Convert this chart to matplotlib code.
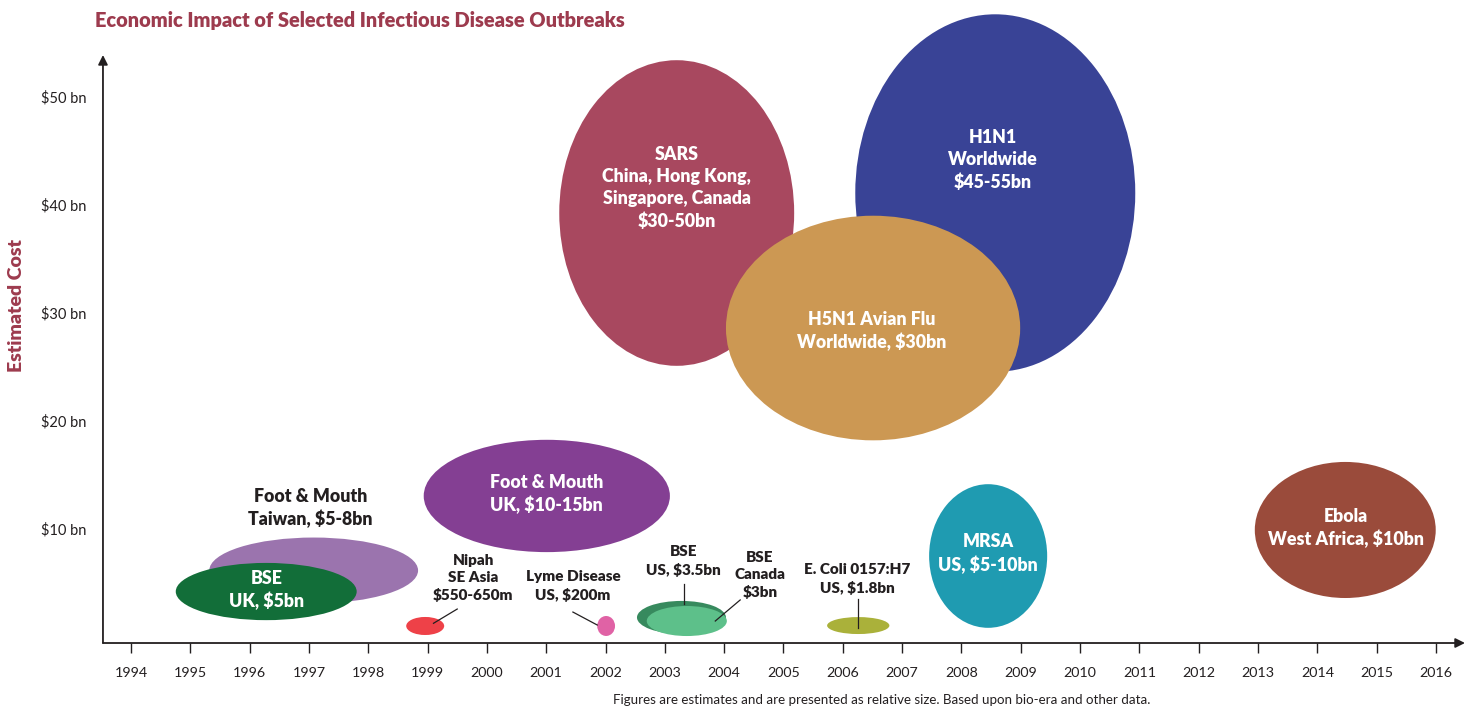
import matplotlib.pyplot as plt
from matplotlib.patches import Ellipse

plt.rcParams['font.family'] = ['Lato', 'DejaVu Sans']

# outbreak bubbles: centre year, centre cost ($bn), width (years), height ($bn)
names = ['SARS', 'H1N1', 'H5N1', 'FM UK', 'FM Taiwan', 'BSE UK', 'Nipah', 'Lyme',
         'BSE US', 'BSE Canada', 'E Coli', 'MRSA', 'Ebola']
center_year = [2003.20, 2008.57, 2006.51, 2001.01, 1997.08, 1996.28, 1998.96, 2002.01,
               2003.28, 2003.37, 2006.26, 2008.45, 2014.47]
center_cost = [39.26, 41.11, 28.61, 13.06, 6.16, 4.21, 1.02, 1.02,
               1.81, 1.48, 1.06, 7.50, 9.91]
width_years = [3.96, 4.72, 4.96, 4.15, 3.52, 3.05, 0.64, 0.30,
               1.50, 1.35, 1.05, 1.99, 3.05]
height_cost = [28.3, 33.1, 20.8, 10.4, 6.1, 5.3, 1.67, 1.85,
               3.06, 2.78, 1.57, 13.3, 12.6]
colors = ['#A8485F', '#394396', '#CC9853', '#843F93', '#9B74AE', '#126E39', '#EE4148',
          '#E062A5', '#378A5E', '#5DC08A', '#AAB13A', '#1F9BB1', '#9A4B3B']
zorders = [2, 2, 3, 2, 2, 3, 2, 2, 2, 3, 2, 2, 2]

# labels inside bubbles (white) and beside small bubbles (black)
white_labels = {
    'SARS': ('SARS\nChina, Hong Kong,\nSingapore, Canada\n$30-50bn', 2003.20, 41.57),
    'H1N1': ('H1N1\nWorldwide\n$45-55bn', 2008.53, 44.17),
    'H5N1': ('H5N1 Avian Flu\nWorldwide, $30bn', 2006.49, 28.33),
    'FM UK': ('Foot & Mouth\nUK, $10-15bn', 2001.01, 13.24),
    'BSE UK': ('BSE\nUK, $5bn', 1996.28, 4.35),
    'MRSA': ('MRSA\nUS, $5-10bn', 2008.45, 7.69),
    'Ebola': ('Ebola\nWest Africa, $10bn', 2014.48, 10.09),
}
big_black_labels = {
    'FM Taiwan': ('Foot & Mouth\nTaiwan, $5-8bn', 1997.03, 11.94),
}
small_black_labels = {
    'Nipah': ('Nipah\nSE Asia\n$550-650m', 1999.77, 5.46),
    'Lyme': ('Lyme Disease\nUS, $200m', 2001.45, 4.72),
    'BSE US': ('BSE\nUS, $3.5bn', 2003.32, 7.04),
    'BSE Canada': ('BSE\nCanada\n$3bn', 2004.60, 5.74),
    'E Coli': ('E. Coli 0157:H7\nUS, $1.8bn', 2006.24, 5.37),
}
# leader lines: (x0, y0, x1, y1) in year / $bn
leaders = [
    (1999.50, 2.59, 1999.10, 1.27),
    (2001.45, 2.31, 2001.86, 1.11),
    (2003.32, 4.90, 2003.32, 3.06),
    (2004.27, 3.43, 2003.85, 1.48),
    (2006.26, 3.50, 2006.26, 0.85),
]

years = list(range(1994, 2017))
cost_ticks = [10, 20, 30, 40, 50]
cost_labels = ['$10 bn', '$20 bn', '$30 bn', '$40 bn', '$50 bn']

title_color = '#9D3B4E'
axis_color = '#231F20'
label_weight = 'heavy'

fig = plt.figure(figsize=(14.71, 7.08), dpi=100)
ax = fig.add_axes([0.0700, 0.0918, 0.9259, 0.8305])
ax.set_xlim(1993.528, 2016.488)
ax.set_ylim(-0.556, 53.89)

for i in range(len(names)):
    e = Ellipse((center_year[i], center_cost[i]), width_years[i], height_cost[i],
                facecolor=colors[i], edgecolor='none', zorder=zorders[i], clip_on=False)
    ax.add_patch(e)

for key, (txt, x, y) in white_labels.items():
    ax.text(x, y, txt, color='white', fontsize=12.8, fontweight=label_weight, ha='center',
            va='center', linespacing=1.36, zorder=5)
for key, (txt, x, y) in big_black_labels.items():
    ax.text(x, y, txt, color=axis_color, fontsize=12.8, fontweight=label_weight, ha='center',
            va='center', linespacing=1.36, zorder=5)
for key, (txt, x, y) in small_black_labels.items():
    ax.text(x, y, txt, color=axis_color, fontsize=11, fontweight=label_weight, ha='center',
            va='center', linespacing=1.35, zorder=5)

for x0, y0, x1, y1 in leaders:
    ax.plot([x0, x1], [y0, y1], color=axis_color, lw=0.9, zorder=6)

# axes drawn as arrows
for s in ax.spines.values():
    s.set_visible(False)
ax.annotate('', xy=(0, 1), xytext=(0, 0), xycoords='axes fraction',
            arrowprops=dict(arrowstyle='-|>', color=axis_color, lw=1.3,
                            mutation_scale=14, shrinkA=0, shrinkB=0))
ax.annotate('', xy=(1, 0), xytext=(0, 0), xycoords='axes fraction',
            arrowprops=dict(arrowstyle='-|>', color=axis_color, lw=1.3,
                            mutation_scale=14, shrinkA=0, shrinkB=0))

ax.set_xticks(years)
ax.set_xticklabels([str(y) for y in years], fontsize=10.3, color=axis_color)
ax.tick_params(axis='x', direction='out', length=7, width=1, color=axis_color, pad=10)
ax.set_yticks(cost_ticks)
ax.set_yticklabels(cost_labels, fontsize=10.5, color=axis_color)
ax.tick_params(axis='y', length=0, pad=12)
ax.set_facecolor('none')

fig.text(95 / 1471, 1 - 20 / 708, 'Economic Impact of Selected Infectious Disease Outbreaks',
         color=title_color, fontsize=14.4, fontweight=label_weight, ha='left', va='center')
fig.text(17 / 1471, 1 - 305 / 708, 'Estimated Cost', color=title_color, fontsize=14,
         fontweight=label_weight, rotation=90, ha='center', va='center')
fig.text(882 / 1471, 1 - 700 / 708,
         'Figures are estimates and are presented as relative size. Based upon bio-era and other data.',
         color=axis_color, fontsize=9.6, ha='center', va='center')

fig.savefig('out.png', dpi=100)
